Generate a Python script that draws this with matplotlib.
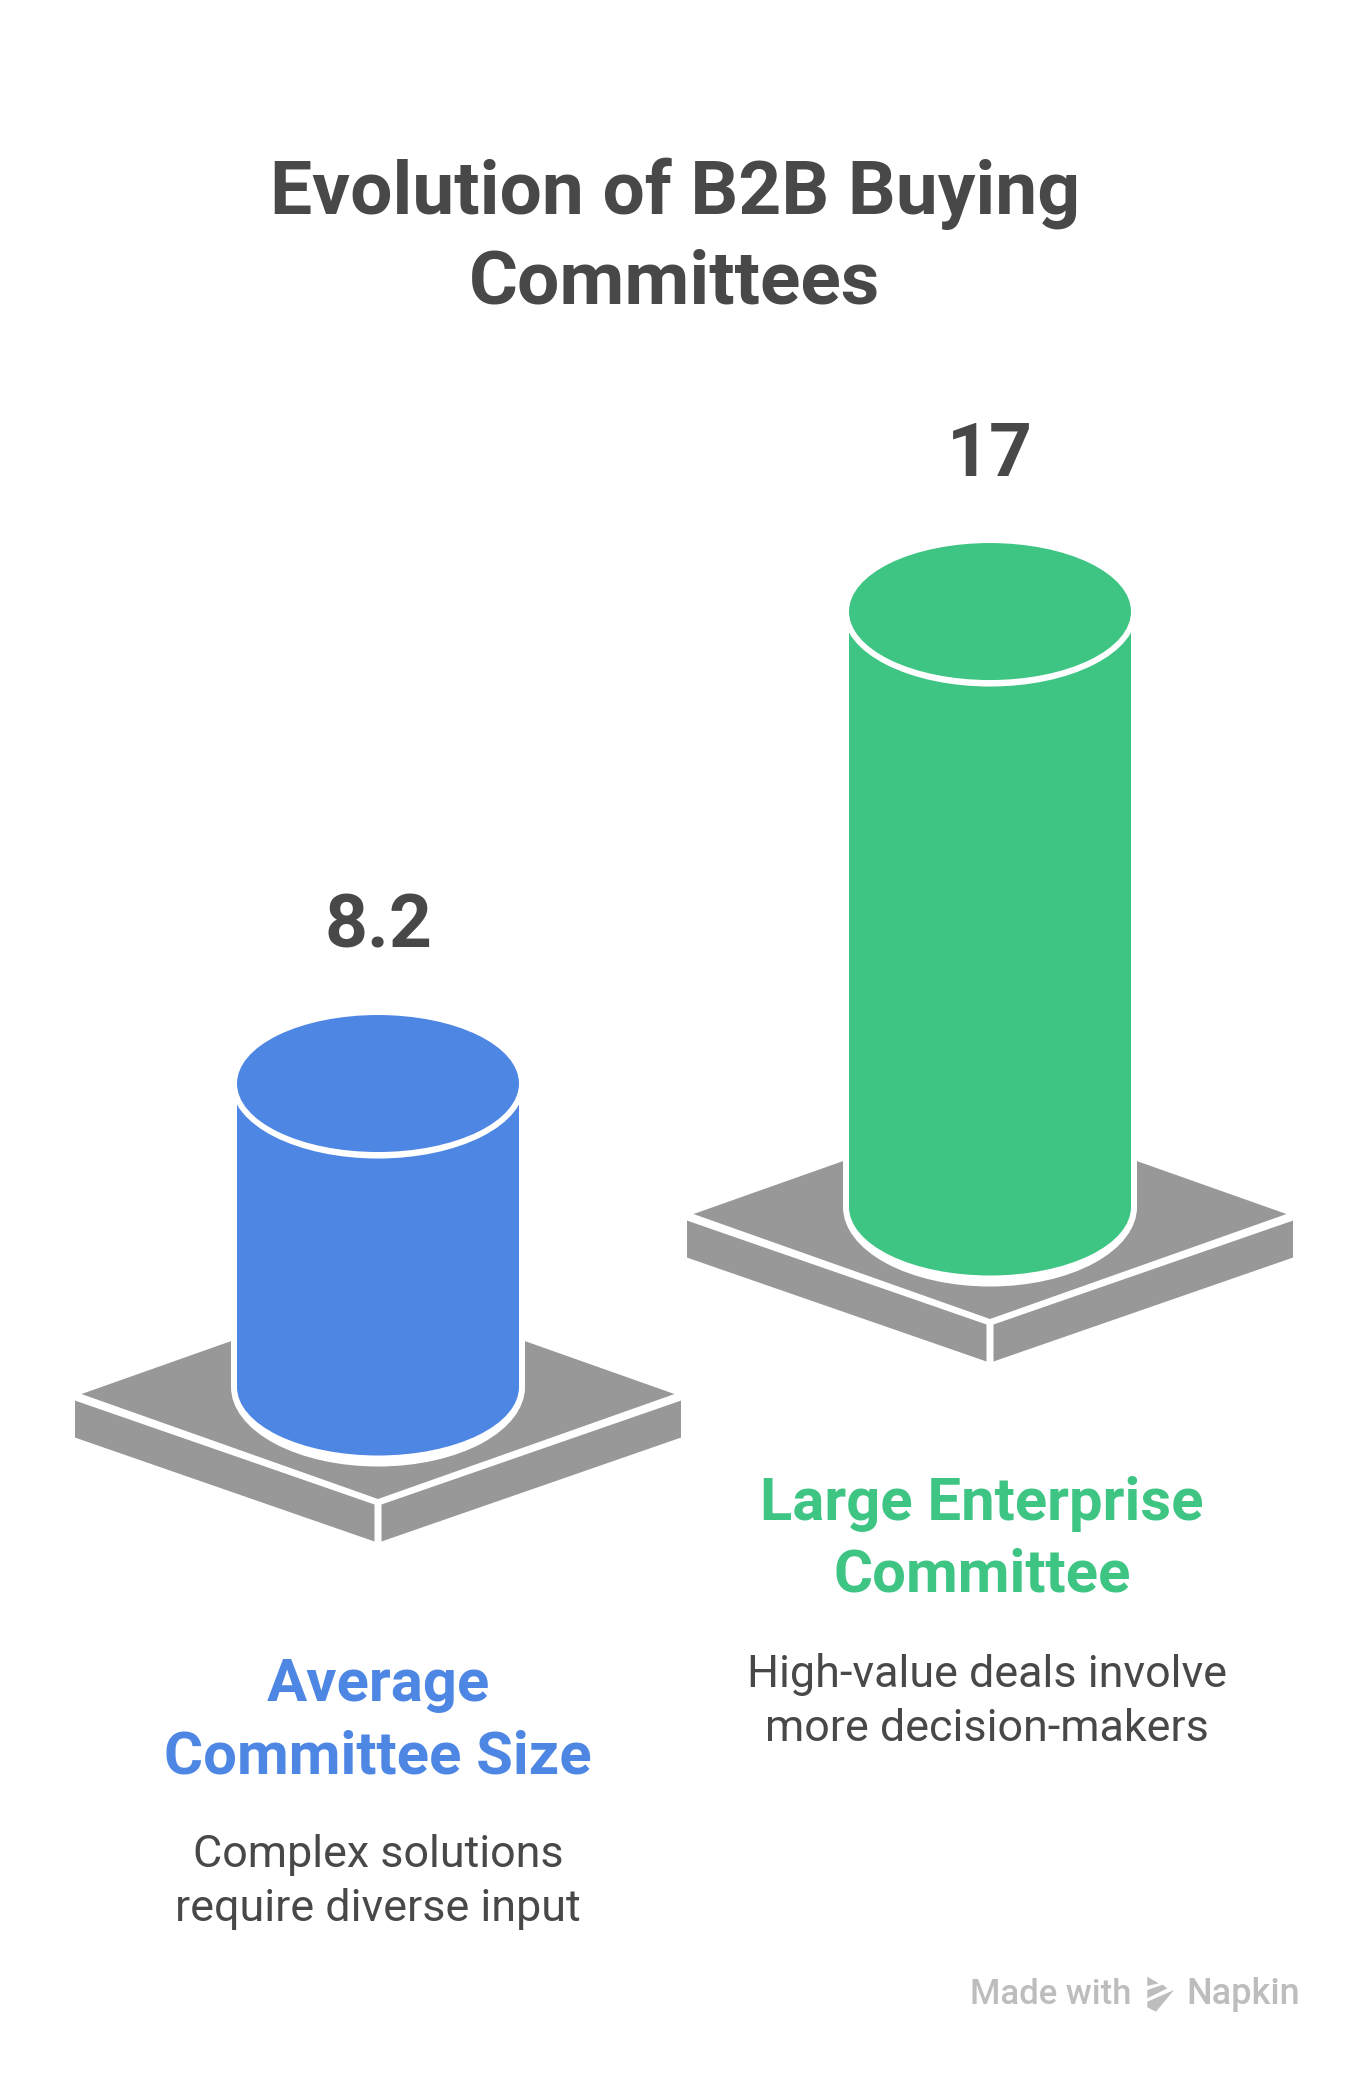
import matplotlib
matplotlib.use("Agg")
import matplotlib.pyplot as plt
from matplotlib.patches import Ellipse, Polygon, Rectangle

# ---- data ----
categories = ["Average\nCommittee Size", "Large Enterprise\nCommittee"]
values = [8.2, 17]
value_labels = ["8.2", "17"]
descriptions = ["Complex solutions\nrequire diverse input", "High-value deals involve\nmore decision-makers"]
title_lines = ["Evolution of B2B Buying", "Committees"]
colors = ["#4E86E4", "#3EC584"]

# ---- layout (pixels) ----
W, H = 1368, 2076
centers = [378, 990]
base_cy = [1387, 1207]   # centre of the cylinder's bottom ellipse
height_offset = 31.4
height_per_unit = 33.18
RX, RY = 141, 68.5
GREY = "#989898"; DARK = "#484848"; MARK = "#BDBDBD"
FONT = "Roboto"

fig = plt.figure(figsize=(W/100, H/100), dpi=100, facecolor="white")
ax = fig.add_axes([0, 0, 1, 1])
ax.set_xlim(0, W); ax.set_ylim(H, 0); ax.axis("off")

def platform(cx, y):
    # y: the y of the front vertex of the plate's top face
    hw, slope = 296.5, 0.354
    dy = hw * slope
    ax.add_patch(Polygon([(cx-hw, y-dy), (cx, y-2*dy), (cx+hw, y-dy), (cx, y)], fc=GREY, ec="none", zorder=1))
    side_slope, top, outer, gap, depth = 0.347, y + 5.5, 303, 3.5, 37
    yo = top - (outer - gap) * side_slope
    for s in (-1, 1):
        ax.add_patch(Polygon([(cx+s*outer, yo), (cx+s*gap, top), (cx+s*gap, top+depth), (cx+s*outer, yo+depth)],
                             fc=GREY, ec="none", zorder=1))

for i, (cx, by, v, c) in enumerate(zip(centers, base_cy, values, colors)):
    h = height_offset + v * height_per_unit
    ty = by - h
    platform(cx, by + 112)
    # white halo around the base
    ax.add_patch(Rectangle((cx-RX-6, ty), 2*(RX+6), h, fc="white", ec="none", zorder=2))
    ax.add_patch(Ellipse((cx, by), 2*(RX+6), 2*(RY+11), fc="white", ec="none", zorder=2))
    # body
    ax.add_patch(Rectangle((cx-RX, ty), 2*RX, h, fc=c, ec="none", zorder=3))
    ax.add_patch(Ellipse((cx, by), 2*RX, 2*RY, fc=c, ec="none", zorder=3))
    # top
    ax.add_patch(Ellipse((cx, ty), 2*(RX+6), 2*(RY+6.5), fc="white", ec="none", zorder=4))
    ax.add_patch(Ellipse((cx, ty), 2*RX, 2*RY, fc=c, ec="none", zorder=5))

tk = dict(ha="center", va="baseline", family=FONT)
ax.text(675, 214, title_lines[0], fontsize=54, fontweight="bold", color=DARK, **tk)
ax.text(675, 304, title_lines[1], fontsize=54, fontweight="bold", color=DARK, **tk)

val_base = [947, 476]
lab_x = [378, 982]; lab_base = [1701, 1520]
desc_x = [378, 987]; desc_base = [1867, 1687]
for i in range(2):
    ax.text(centers[i], val_base[i], value_labels[i], fontsize=54, fontweight="bold", color=DARK, **tk)
    for j, line in enumerate(categories[i].split("\n")):
        ax.text(lab_x[i], lab_base[i] + j*72, line, fontsize=43, fontweight="bold", color=colors[i], **tk)
    for j, line in enumerate(descriptions[i].split("\n")):
        ax.text(desc_x[i], desc_base[i] + j*54, line, fontsize=32.3, color=DARK, **tk)

ax.text(970, 2004, "Made with", fontsize=25, fontweight="medium", color=MARK, ha="left", va="baseline", family=FONT)
ax.text(1186, 2004, "Napkin", fontsize=26, fontweight="medium", color=MARK, ha="left", va="baseline", family=FONT)
logo_shapes = [[(52, 20), (86, 40), (52, 48)],
               [(52, 60), (98, 44), (112, 55), (52, 85)],
               [(52, 95), (132, 60), (78, 125), (52, 112)]]
for pts in logo_shapes:
    ax.add_patch(Polygon([(1130 + x/3, 1970 + y/3) for x, y in pts], fc=MARK, ec="none"))

fig.savefig("out.png", dpi=100, facecolor="white")
